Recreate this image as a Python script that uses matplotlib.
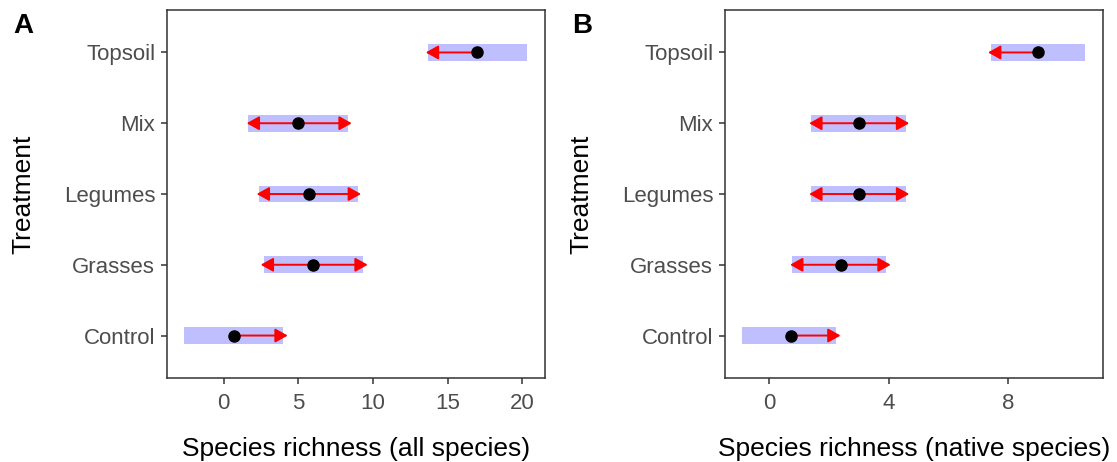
import matplotlib
matplotlib.use("Agg")
import matplotlib.pyplot as plt
from matplotlib.patches import ArrowStyle

plt.rcParams['font.family'] = ['Liberation Sans', 'DejaVu Sans']

categories = ['Control', 'Grasses', 'Legumes', 'Mix', 'Topsoil']

all_mean = [0.67, 6.0, 5.7, 5.0, 17.0]
all_lo = [-2.66, 2.70, 2.39, 1.65, 13.71]
all_hi = [4.0, 9.32, 9.02, 8.35, 20.3]
all_arrow_lo = [None, 2.48, 2.21, 1.54, 13.54]
all_arrow_hi = [4.29, 9.65, 9.2, 8.58, None]

nat_mean = [0.71, 2.38, 3.0, 3.0, 8.98]
nat_lo = [-0.91, 0.74, 1.38, 1.38, 7.41]
nat_hi = [2.22, 3.89, 4.57, 4.57, 10.56]
nat_arrow_lo = [None, 0.69, 1.33, 1.33, 7.32]
nat_arrow_hi = [2.38, 4.06, 4.68, 4.68, None]

all_ticks = [0, 5, 10, 15, 20]
nat_ticks = [0, 4, 8]

W, H = 1117, 462
fig = plt.figure(figsize=(W / 100, H / 100), dpi=100)

def px_axes(x0, x1, ytop, ybot):
    return fig.add_axes([x0 / W, 1 - ybot / H, (x1 - x0) / W, (ybot - ytop) / H])

ax1 = px_axes(167, 545, 10, 378)
ax2 = px_axes(725, 1103, 10, 378)

style = ArrowStyle('-|>', head_length=0.75, head_width=0.42)

def draw(ax, mean, lo, hi, alo, ahi, ticks, xlim, xlabel):
    ys = list(range(len(categories)))
    ax.barh(ys, [h - l for l, h in zip(lo, hi)], left=lo, height=0.24,
            color='#BFBFFF', edgecolor='none', zorder=1)
    for y, m, a1, a2 in zip(ys, mean, alo, ahi):
        for a in (a1, a2):
            if a is None:
                continue
            ax.annotate('', xy=(a, y), xytext=(m, y),
                        arrowprops=dict(arrowstyle=style, mutation_scale=10,
                                        color='red', lw=1.4,
                                        shrinkA=0, shrinkB=0),
                        zorder=2)
    ax.plot(mean, ys, 'o', color='black', markersize=8, zorder=3)
    ax.set_yticks(ys)
    ax.set_yticklabels(categories)
    ax.set_ylim(0.4 - 1, 5.6 - 1)
    ax.set_xticks(ticks)
    ax.set_xlim(*xlim)
    for s in ax.spines.values():
        s.set_color('#333333')
        s.set_linewidth(1.1)
    ax.tick_params(axis='both', colors='#333333', labelcolor='#4D4D4D',
                   labelsize=16, length=4.5, width=1.1, pad=4)
    ax.tick_params(axis='x', pad=6)
    ax.set_xlabel(xlabel, fontsize=19, color='black')
    ax.xaxis.set_label_coords(0.5, -0.16)
    ax.set_ylabel('Treatment', fontsize=19, color='black')

draw(ax1, all_mean, all_lo, all_hi, all_arrow_lo, all_arrow_hi,
     all_ticks, (-3.8, 21.53), 'Species richness (all species)')
draw(ax2, nat_mean, nat_lo, nat_hi, nat_arrow_lo, nat_arrow_hi,
     nat_ticks, (-1.49, 11.17), 'Species richness (native species)')
ax1.yaxis.set_label_coords(-0.347, 0.5)
ax2.yaxis.set_label_coords(-0.349, 0.5)

fig.text(13 / W, 1 - 33 / H, 'A', fontsize=20, fontweight='bold', va='baseline')
fig.text(572 / W, 1 - 33 / H, 'B', fontsize=20, fontweight='bold', va='baseline')

fig.savefig('out.png', dpi=100)
